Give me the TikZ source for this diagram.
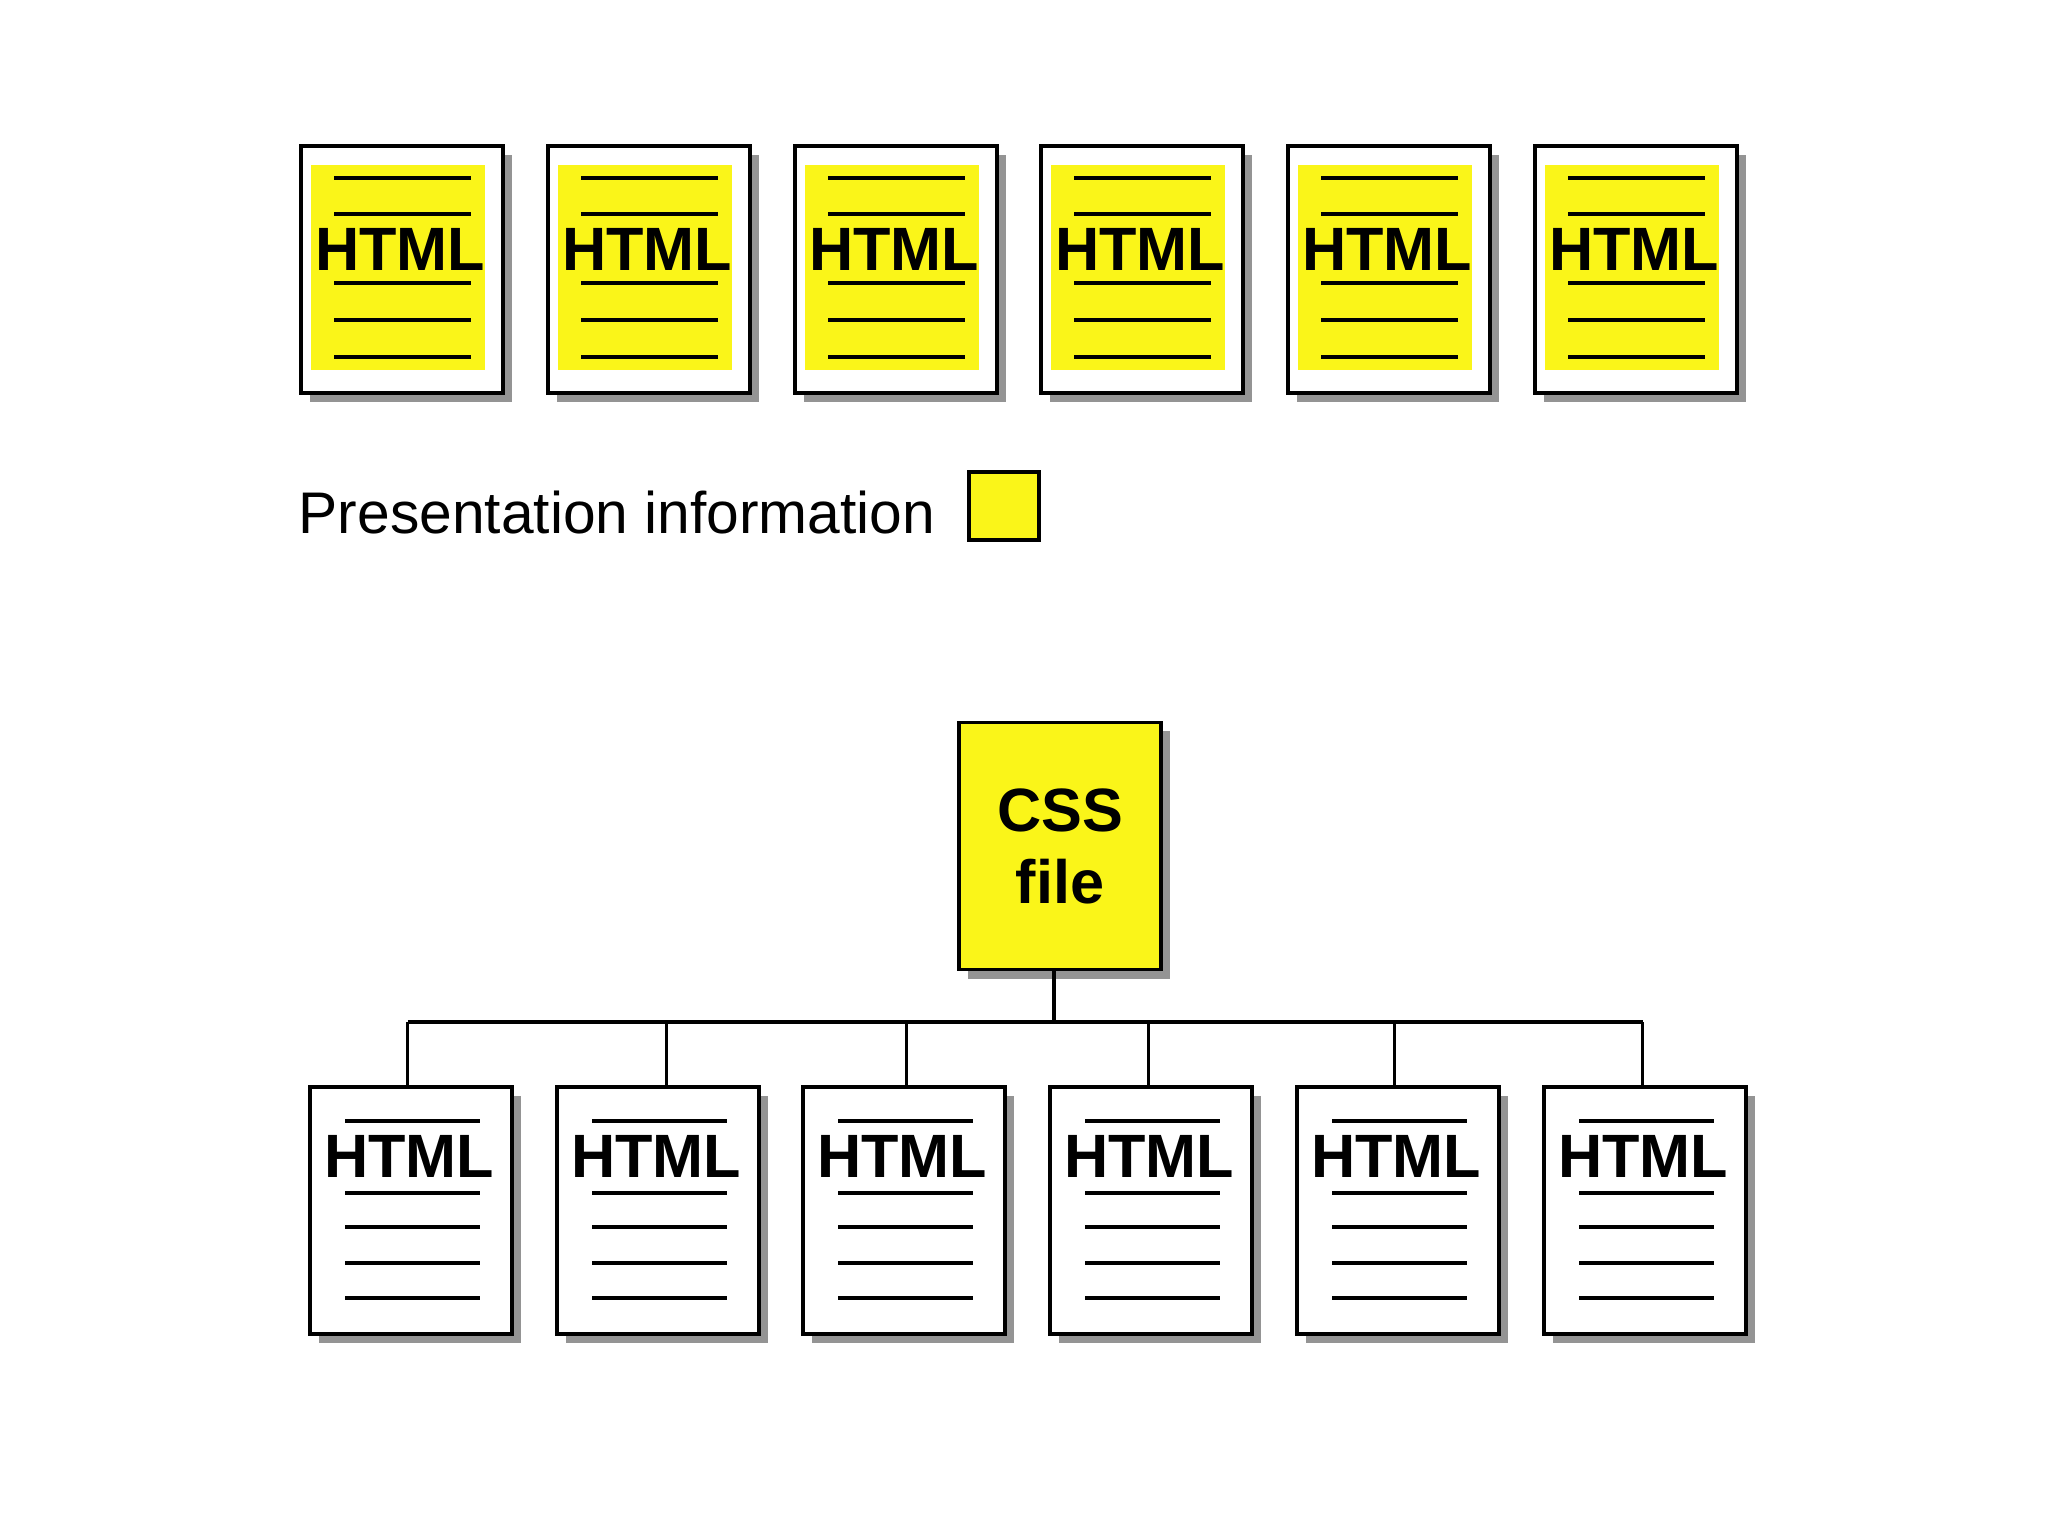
\documentclass[tikz,border=0pt]{standalone}
\usepackage{fontspec}
\setmainfont{Liberation Sans}
\usetikzlibrary{calc,shadows}
\definecolor{presyellow}{RGB}{250,245,25}
\tikzset{
  docbox/.style={draw=black, line width=1pt, fill=white, minimum width=2.02cm, minimum height=2.47cm, inner sep=0pt, anchor=north west,
    drop shadow={shadow xshift=0.09cm, shadow yshift=-0.09cm, fill=black!42, opacity=1}},
  cssbox/.style={docbox, fill=presyellow, anchor=center, align=center, font=\fontsize{17.4pt}{20.5pt}\selectfont\bfseries},
  rule/.style={line width=1pt, black},
  htmltxt/.style={anchor=base, inner sep=0pt, font=\fontsize{17.4pt}{20pt}\selectfont\bfseries},
  conn/.style={line width=0.9pt, black},
  legendtxt/.style={anchor=base west, inner sep=0pt, font=\fontsize{16.7pt}{20pt}\selectfont}
}
\begin{document}
\begin{tikzpicture}[x=0.01cm, y=-0.01cm]
\useasboundingbox[fill=white] (0,0) rectangle (2048,1536);
% top row: HTML pages with embedded presentation information
\foreach \i/\x in {1/299,2/546,3/793,4/1039,5/1286,6/1533} {
  \node[docbox] (t\i) at (\x,144) {};
  \fill[presyellow] ($(t\i.north west)+(12,21)$) rectangle ($(t\i.north west)+(186,226)$);
  \foreach \yy in {34,70,139,176,213}
    \draw[rule] ($(t\i.north west)+(35,\yy)$) -- ($(t\i.north west)+(172,\yy)$);
  \node[htmltxt] (th\i) at ($(t\i.north west)+(101,126)$) {HTML};
}
% legend
\node[legendtxt] (leg) at (298,533) {Presentation information};
\node[draw=black, line width=1pt, fill=presyellow, minimum width=0.70cm, minimum height=0.68cm, inner sep=0pt] (legbox) at (1004,506) {};
% CSS file
\node[cssbox] (css) at (1060,846) {CSS\\file};
% bottom row: plain HTML pages
\foreach \i/\x in {1/308,2/555,3/801,4/1048,5/1295,6/1542} {
  \node[docbox] (b\i) at (\x,1085) {};
  \foreach \yy in {36,108,142,178,213}
    \draw[rule] ($(b\i.north west)+(37,\yy)$) -- ($(b\i.north west)+(172,\yy)$);
  \node[htmltxt] (bh\i) at ($(b\i.north west)+(101,92)$) {HTML};
}
% connectors
\coordinate (bus) at (1054,1022);
\draw[conn] (css.south -| bus) -- (bus);
\draw[conn] ($(b1.north |- bus)+(-3,0)$) -- ($(b6.north |- bus)+(-2,0)$);
\foreach \i/\dx in {1/-3,2/9,3/3,4/-2,5/-3,6/-2}
  \draw[conn] ($(b\i.north |- bus)+(\dx,0)$) -- ($(b\i.north)+(\dx,0)$);
\end{tikzpicture}
\end{document}
